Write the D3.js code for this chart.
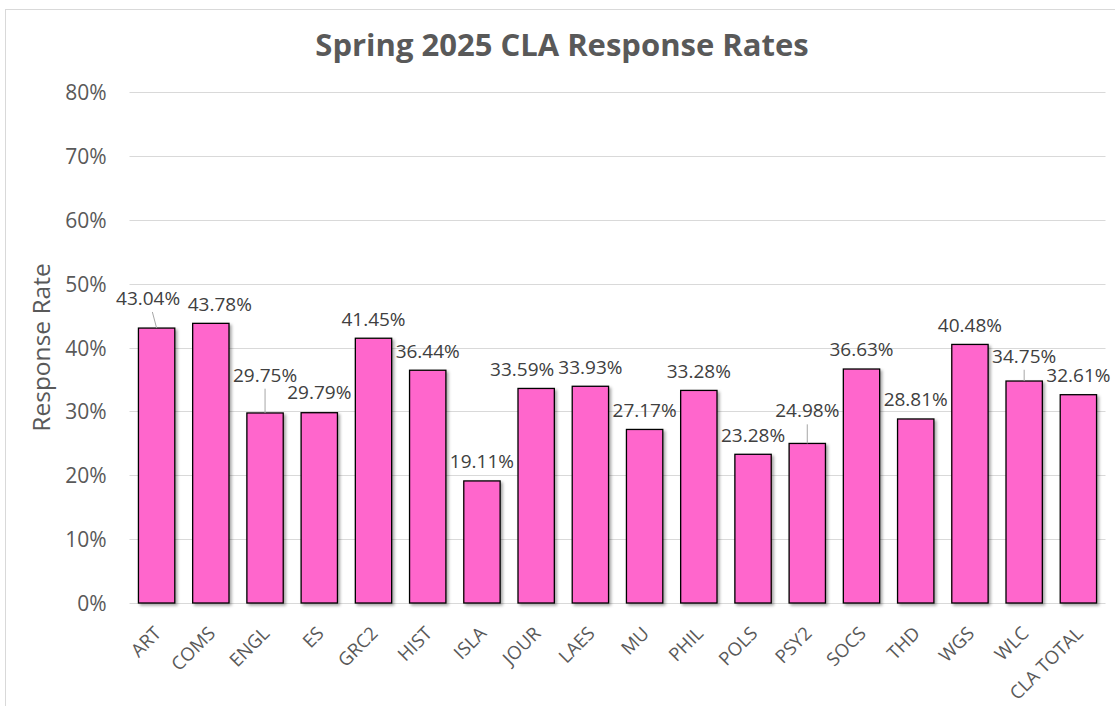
<!DOCTYPE html>
<html>
<head>
<meta charset="utf-8">
<script src="https://cdn.jsdelivr.net/npm/d3@7"></script>
<style>
  html, body { margin: 0; padding: 0; background: #fff; }
  svg { display: block; font-family: "Open Sans", "Noto Sans", sans-serif; }
</style>
</head>
<body>
<svg id="chart" width="1115" height="706"></svg>
<script>
// ---- data ----
const categories = ["ART","COMS","ENGL","ES","GRC2","HIST","ISLA","JOUR","LAES","MU","PHIL","POLS","PSY2","SOCS","THD","WGS","WLC","CLA TOTAL"];
const responseRates = [43.04,43.78,29.75,29.79,41.45,36.44,19.11,33.59,33.93,27.17,33.28,23.28,24.98,36.63,28.81,40.48,34.75,32.61];
const yTicks = [0,10,20,30,40,50,60,70,80];
const chartTitle = "Spring 2025 CLA Response Rates";
const yAxisTitle = "Response Rate";

// ---- layout ----
const W = 1115, H = 706;
const plot = { left: 129.5, right: 1105.5, top: 92, bottom: 603 };
const svg = d3.select("#chart");

const x = d3.scaleBand().domain(categories).range([plot.left, plot.right]).paddingInner(0.33).paddingOuter(0.165);
const y = d3.scaleLinear().domain([0, 80]).range([plot.bottom, plot.top]);

// chart border
svg.append("rect").attr("x", 5.5).attr("y", 9.5).attr("width", W).attr("height", H + 10)
  .attr("fill", "none").attr("stroke", "#d9d9d9").attr("stroke-width", 1);

// shadow filter
const defs = svg.append("defs");
const f = defs.append("filter").attr("id", "shadow").attr("x", "-20%").attr("y", "-20%").attr("width", "140%").attr("height", "140%");
f.append("feDropShadow").attr("dx", 2).attr("dy", 2).attr("stdDeviation", 1.6)
  .attr("flood-color", "#000").attr("flood-opacity", 0.35);

// gridlines
svg.append("g").selectAll("line").data(yTicks).join("line")
  .attr("x1", plot.left).attr("x2", plot.right)
  .attr("y1", d => Math.round(y(d)) + 0.5).attr("y2", d => Math.round(y(d)) + 0.5)
  .attr("stroke", "#d9d9d9").attr("stroke-width", 1);

// y axis tick labels
const yAxis = d3.axisLeft(y).tickValues(yTicks).tickFormat(d => d + "%").tickSize(0).tickPadding(0);
const gy = svg.append("g").attr("transform", `translate(${plot.left - 23},0)`).call(yAxis);
gy.select(".domain").remove();
gy.selectAll("text").attr("fill", "#595959").attr("font-size", "21px")
  .attr("font-family", "'Open Sans', sans-serif").attr("dy", "0.36em");

// bars
svg.append("g").selectAll("rect").data(categories).join("rect")
  .attr("x", d => x(d)).attr("width", x.bandwidth())
  .attr("y", (d, i) => y(responseRates[i]))
  .attr("height", (d, i) => y(0) - y(responseRates[i]))
  .attr("fill", "#FF66CC").attr("stroke", "#000").attr("stroke-width", 1.3)
  .attr("filter", "url(#shadow)");

// data labels (with manual nudges as in the original)
const nudge = { "ART": [-8.5, -10.4, true], "COMS": [9, 0], "ENGL": [0, -18.6, true], "ES": [0, -1],
  "JOUR": [-14, 0], "PSY2": [0, -13.4, true], "WLC": [0, -5.6, true] };
const labels = svg.append("g");
categories.forEach((c, i) => {
  const cx = x(c) + x.bandwidth() / 2;
  const top = y(responseRates[i]);
  const n = nudge[c] || [0, 0, false];
  const lx = cx + n[0], ly = top - 12.7 + n[1];
  if (n[2]) {
    labels.append("line").attr("x1", (lx + cx) / 2).attr("y1", ly + 7)
      .attr("x2", cx).attr("y2", top).attr("stroke", "#a6a6a6").attr("stroke-width", 1);
  }
  labels.append("text").attr("x", lx).attr("y", ly).attr("text-anchor", "middle")
    .attr("fill", "#404040").attr("font-size", "19px")
    .text(responseRates[i].toFixed(2) + "%");
});

// x axis labels
svg.append("g").selectAll("text").data(categories).join("text")
  .attr("transform", d => `translate(${x(d) + x.bandwidth() / 2 + 1},630) rotate(-45)`)
  .attr("text-anchor", "end").attr("dy", "0.35em")
  .attr("fill", "#595959").attr("font-size", "18.5px")
  .text(d => d);

// y axis title
svg.append("text").attr("transform", `translate(50,${(plot.top + plot.bottom) / 2}) rotate(-90)`)
  .attr("text-anchor", "middle").attr("fill", "#595959").attr("font-size", "24.5px")
  .text(yAxisTitle);

// title
svg.append("text").attr("x", 562).attr("y", 56).attr("text-anchor", "middle")
  .attr("fill", "#595959").attr("font-size", "31px").attr("font-weight", "bold")
  .text(chartTitle);
</script>
</body>
</html>
